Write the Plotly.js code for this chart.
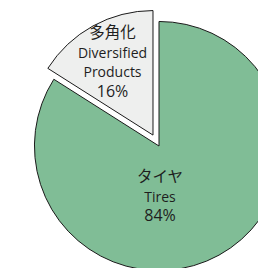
<!DOCTYPE html>
<html>
<head>
<meta charset="utf-8">
<script src="https://cdn.plot.ly/plotly-3.0.1.min.js"></script>
<style>
html,body{margin:0;padding:0;width:258px;height:268px;overflow:hidden;background:#fff;}
#chart{position:absolute;left:22px;top:9px;width:274px;height:274px;}
</style>
</head>
<body>
<div id="chart"></div>
<script>
const labelsJa = ["タイヤ", "多角化"];
const labelsEn = ["Tires", "Diversified<br>Products"];
const values = [84, 16];
const colors = ["#80bd96", "#eeefee"];
const pulls = [0, 0.1];

const FONT = {family: "Open Sans, Noto Sans CJK JP, sans-serif", size: 15, color: "#1e1e1e"};
const JA = '<span style="font-size:15.5px">';
const EN = '<span style="font-size:14px">';
const PCT = '<span style="font-size:16px">';
const total = values.reduce((a, b) => a + b, 0);

const trace = {
  type: "pie",
  values: values,
  labels: labelsEn,
  customdata: labelsJa,
  sort: false,
  direction: "clockwise",
  rotation: 0,
  pull: pulls,
  marker: {colors: colors, line: {color: "#1a1a1a", width: 1}},
  texttemplate: ["", JA + "%{customdata}</span><br>" + EN + "%{label}</span><br>" + PCT + "%{percent:.0%}</span>"],
  textposition: "inside",
  insidetextorientation: "horizontal",
  textfont: FONT,
  hoverinfo: "skip",
  showlegend: false
};

const annotations = [{
  xref: "paper", yref: "paper", x: 0.505, y: 0.319,
  xanchor: "center", yanchor: "middle", showarrow: false,
  text: JA + labelsJa[0] + "</span><br>" + EN + labelsEn[0] + "</span><br>" + PCT + Math.round(values[0] / total * 100) + "%</span>",
  font: FONT
}];

Plotly.newPlot("chart", [trace], {
  width: 274, height: 274,
  margin: {l: 0, r: 0, t: 0, b: 0},
  paper_bgcolor: "rgba(0,0,0,0)",
  plot_bgcolor: "rgba(0,0,0,0)",
  uniformtext: {mode: "show", minsize: 14},
  annotations: annotations,
  showlegend: false
}, {staticPlot: true, displayModeBar: false});
</script>
</body>
</html>
